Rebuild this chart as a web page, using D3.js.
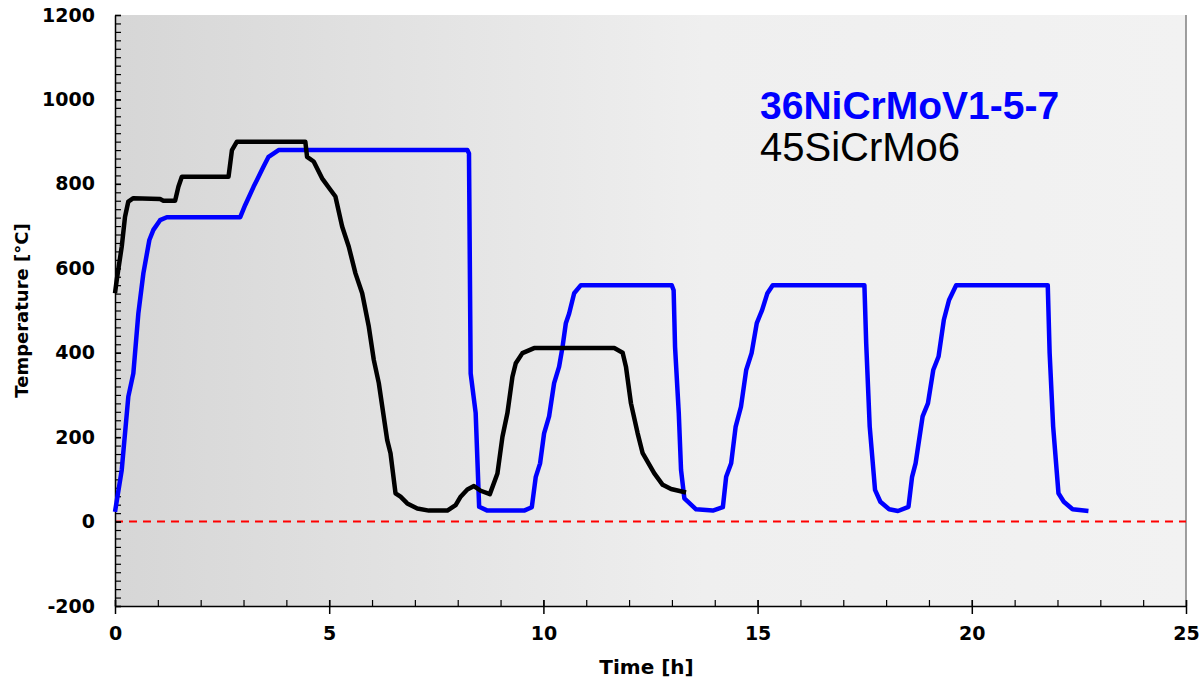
<!DOCTYPE html>
<html>
<head>
<meta charset="utf-8">
<script src="https://cdn.jsdelivr.net/npm/d3@7"></script>
<style>
  body { margin: 0; background: #fff; }
  svg { display: block; }
</style>
</head>
<body>
<svg id="chart" width="1204" height="683"></svg>
<script>
// time [h] and temperature [°C]
var blueTime = [0, 0.157, 0.311, 0.428, 0.545, 0.662, 0.802, 0.896, 1.052, 1.209, 2.923, 3.04, 3.234, 3.314, 3.468, 3.585, 3.819,
  8.225, 8.263, 8.302, 8.419, 8.5, 8.693, 9.549, 9.729, 9.822, 9.923, 10.016, 10.133, 10.25, 10.367, 10.447, 10.524, 10.601, 10.718, 10.875,
  12.996, 13.04, 13.073, 13.16, 13.213, 13.29, 13.564, 13.955, 14.189, 14.266, 14.383, 14.488, 14.612, 14.734, 14.86, 14.981, 15.105, 15.229, 15.353,
  17.493, 17.535, 17.617, 17.741, 17.865, 18.071, 18.277, 18.522, 18.606, 18.688, 18.852, 18.976, 19.1, 19.224, 19.348, 19.469, 19.635,
  21.773, 21.817, 21.899, 22.023, 22.147, 22.353, 22.723];
var blueTemp = [23, 122, 296, 351, 493, 588, 667, 691, 714, 721, 721, 750, 793, 809, 841, 864, 880,
  880, 872, 351, 257, 35, 26, 26, 34, 106, 138, 209, 249, 328, 367, 414, 470, 493, 541, 560,
  560, 548, 414, 257, 122, 55, 29, 26, 34, 106, 138, 225, 272, 359, 399, 470, 501, 541, 560,
  560, 422, 225, 75, 47, 29, 25, 35, 106, 138, 249, 280, 359, 391, 478, 525, 560,
  560, 399, 225, 67, 47, 29, 25];

var blackTime = [0, 0.04, 0.157, 0.234, 0.311, 0.428, 1.052, 1.13, 1.403, 1.48, 1.56, 2.65, 2.73, 2.846, 4.443, 4.483, 4.638, 4.834,
  5.028, 5.145, 5.302, 5.457, 5.613, 5.77, 5.924, 6.041, 6.158, 6.354, 6.431, 6.548, 6.665, 6.822, 7.056, 7.327, 7.757, 7.951,
  8.068, 8.225, 8.379, 8.536, 8.75, 8.927, 9.044, 9.16, 9.277, 9.355, 9.51, 9.783, 11.654, 11.85, 11.927, 12.044, 12.2, 12.317,
  12.589, 12.785, 12.98, 13.33];
var blackTemp = [541, 572, 651, 722, 758, 766, 764, 760, 760, 793, 817, 817, 880, 900, 900, 864, 853, 813,
  786, 770, 699, 651, 588, 541, 462, 383, 328, 193, 162, 67, 59, 43, 31, 26, 26, 39,
  59, 76, 84, 73, 65, 114, 201, 257, 343, 375, 399, 411, 411, 400, 367, 280, 209, 162,
  114, 87, 77, 69];

var seriesNames = ["36NiCrMoV1-5-7", "45SiCrMo6"];
var xTicks = [0, 5, 10, 15, 20, 25];
var yTicks = [-200, 0, 200, 400, 600, 800, 1000, 1200];

var svg = d3.select("#chart");
const margin = {top: 15, right: 18, bottom: 77, left: 115};
var width = 1204 - margin.left - margin.right;
var height = 683 - margin.top - margin.bottom;

var x = d3.scaleLinear().domain([0, 25]).range([0, width]);
var y = d3.scaleLinear().domain([-200, 1200]).range([height, 0]);

var font = "DejaVu Sans, Verdana, sans-serif";
var plain = d => String(d);

var defs = svg.append("defs");
var grad = defs.append("linearGradient").attr("id", "bg").attr("x1", "0").attr("x2", "1").attr("y1", "0").attr("y2", "0");
grad.append("stop").attr("offset", "0%").attr("stop-color", "#d6d6d6");
grad.append("stop").attr("offset", "55%").attr("stop-color", "#efefef");
grad.append("stop").attr("offset", "100%").attr("stop-color", "#f2f2f2");

var g = svg.append("g").attr("transform", "translate(" + margin.left + "," + margin.top + ")");

g.append("rect")
  .attr("width", width).attr("height", height)
  .attr("fill", "url(#bg)");

// right edge of plot area
g.append("line")
  .attr("x1", width).attr("x2", width).attr("y1", 0).attr("y2", height)
  .attr("stroke", "#7f7f7f").attr("stroke-width", 1.5);

// zero line
g.append("line")
  .attr("x1", x(0)).attr("x2", x(25)).attr("y1", y(0)).attr("y2", y(0))
  .attr("stroke", "#ff0000").attr("stroke-width", 2).attr("stroke-dasharray", "8,6");

// minor ticks
var yMinor = d3.range(-200, 1201, 20);
g.append("g").attr("class", "yminor")
  .call(d3.axisRight(y).tickValues(yMinor).tickSize(6).tickFormat(""))
  .call(s => s.select(".domain").remove())
  .selectAll("line").attr("stroke", "#000").attr("stroke-width", 1.2);

var xMinor = d3.range(0, 26, 1);
g.append("g").attr("class", "xminor")
  .attr("transform", "translate(0," + height + ")")
  .call(d3.axisTop(x).tickValues(xMinor).tickSize(6).tickFormat(""))
  .call(s => s.select(".domain").remove())
  .selectAll("line").attr("stroke", "#000").attr("stroke-width", 1.2);

// major axes
var yAxis = g.append("g")
  .call(d3.axisLeft(y).tickValues(yTicks).tickFormat(plain).tickSize(8).tickPadding(12).tickSizeOuter(0));
yAxis.selectAll(".tick line").attr("x2", 6);
yAxis.select(".domain").attr("stroke-width", 1.5);
yAxis.selectAll("line").attr("stroke-width", 1.5);
yAxis.selectAll("text")
  .attr("font-family", font)
  .attr("font-weight", "bold").attr("font-size", 19).attr("fill", "#000");

var xAxis = g.append("g")
  .attr("transform", "translate(0," + height + ")")
  .call(d3.axisBottom(x).tickValues(xTicks).tickFormat(plain).tickSize(8).tickPadding(13).tickSizeOuter(0));
xAxis.selectAll(".tick line").attr("y1", -6);
xAxis.select(".domain").attr("stroke-width", 1.5);
xAxis.selectAll("line").attr("stroke-width", 1.5);
xAxis.selectAll("text")
  .attr("font-family", font)
  .attr("font-weight", "bold").attr("font-size", 19).attr("fill", "#000");

// axis titles
svg.append("text")
  .attr("x", margin.left + width / 2 - 4).attr("y", 674)
  .attr("text-anchor", "middle")
  .attr("font-family", font)
  .attr("font-weight", "bold").attr("font-size", 20)
  .text("Time [h]");

svg.append("text")
  .attr("transform", "translate(28," + (margin.top + y(500)) + ") rotate(-90)")
  .attr("text-anchor", "middle")
  .attr("font-family", font)
  .attr("font-weight", "bold").attr("font-size", 18)
  .text("Temperature [°C]");

// curves
var line = d3.line()
  .x(d => x(d[0]))
  .y(d => y(d[1]))
  .curve(d3.curveLinear);

var blueData = blueTime.map((t, i) => [t, blueTemp[i]]);
var blackData = blackTime.map((t, i) => [t, blackTemp[i]]);

g.append("path")
  .datum(blueData)
  .attr("d", line)
  .attr("fill", "none")
  .attr("stroke", "#0000ff")
  .attr("stroke-width", 4.5)
  .attr("stroke-linejoin", "round");

g.append("path")
  .datum(blackData)
  .attr("d", line)
  .attr("fill", "none")
  .attr("stroke", "#000")
  .attr("stroke-width", 4.5)
  .attr("stroke-linejoin", "round");

// labels
svg.append("text")
  .attr("x", 760).attr("y", 119)
  .attr("font-family", "Liberation Sans, Arial, sans-serif")
  .attr("font-weight", "bold").attr("font-size", 39)
  .attr("fill", "#0000ff")
  .text(seriesNames[0]);

svg.append("text")
  .attr("x", 760).attr("y", 161)
  .attr("font-family", "Liberation Sans, Arial, sans-serif")
  .attr("font-size", 40)
  .attr("fill", "#000")
  .text(seriesNames[1]);
</script>
</body>
</html>
